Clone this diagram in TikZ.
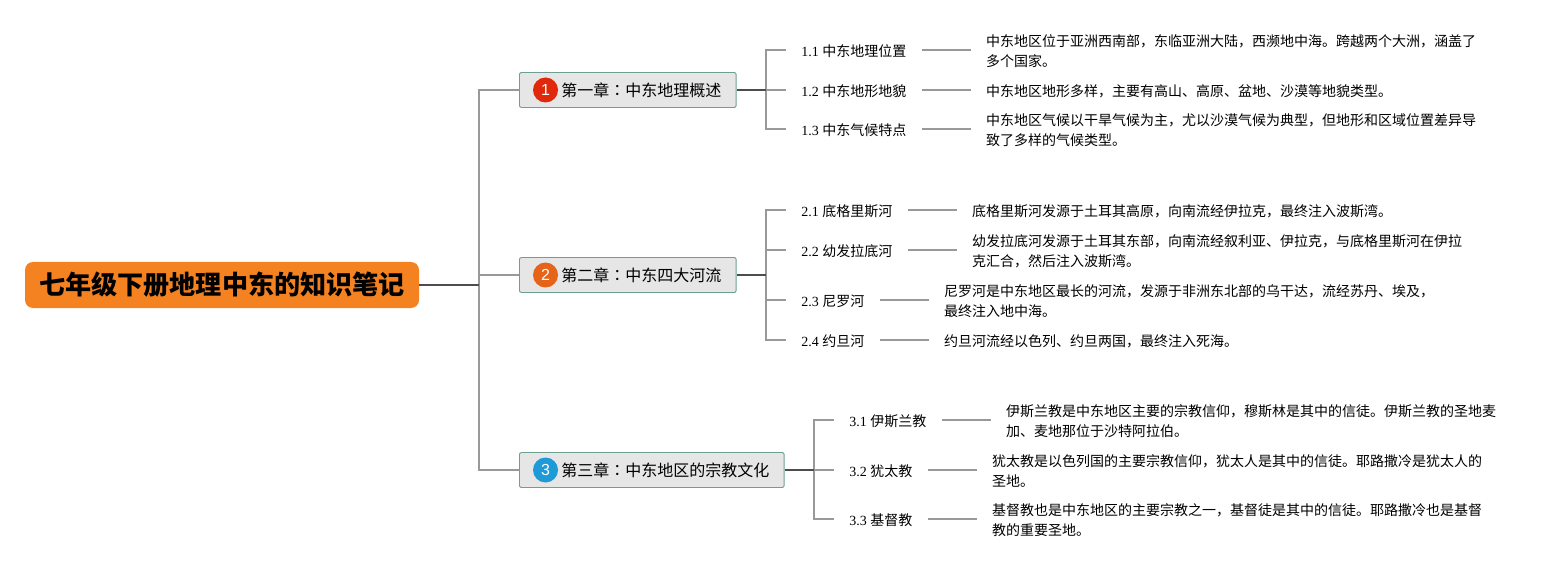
\documentclass[tikz,border=0pt]{standalone}
\usepackage{fontspec}
\setmainfont{Liberation Serif}
\setsansfont{Liberation Sans}
\newfontfamily\cjk{Noto Sans CJK SC}
\newfontfamily\cjktc{Noto Sans CJK TC}
\newcommand\zc{^^^^ff0c}
\newcommand\zk{{\cjktc ^^^^ff1a}}
\definecolor{RootOrange}{RGB}{245,130,32}
\definecolor{BoxGrey}   {RGB}{230,230,230}
\definecolor{BoxEdge}   {RGB}{110,160,145}
\definecolor{LineGrey}  {RGB}{153,153,153}
\definecolor{LineDark}  {RGB}{77,77,77}
\definecolor{IconRed}   {RGB}{224,40,10}
\definecolor{IconOrange}{RGB}{230,100,25}
\definecolor{IconBlue}  {RGB}{30,154,214}
\usetikzlibrary{positioning}

\begin{document}
\begin{tikzpicture}[x=0.75pt,y=-0.75pt,
  rootbox/.style={fill=RootOrange,rounded corners=6pt,font=\cjk\bfseries\fontsize{19.6}{23}\selectfont,
              minimum width=295.5pt,minimum height=34.5pt,inner sep=0pt,align=center},
  chapbox/.style={draw=BoxEdge,fill=BoxGrey,rounded corners=1.5pt,line width=0.7pt,anchor=west,
              font=\cjk\fontsize{12}{14}\selectfont,minimum height=26.25pt,inner ysep=0pt,inner xsep=11pt,
              execute at begin node={\hspace*{20.5pt}}},
  icon/.style={circle,minimum size=18.75pt,inner sep=0pt,text=white,font=\sffamily\fontsize{12}{14}\selectfont},
  subbox/.style={anchor=west,inner ysep=0pt,inner xsep=11.25pt,font=\fontsize{10.5}{15}\selectfont,
              execute at begin node={\rule{0pt}{11pt}}},
  descbox/.style={yshift=-0.75pt,inner ysep=0pt,inner xsep=11.25pt,align=left,
              font=\cjk\fontsize{10.5}{15}\selectfont},
  grey/.style={draw=LineGrey,line width=0.9pt},
  dark/.style={draw=LineDark,line width=1.2pt}]
  \useasboundingbox (0,0) rectangle (1566,570);

  % main topic and chapters
  \node[rootbox] (root) at (222,285) {七年级下册地理中东的知识笔记};
  \node[chapbox] (ch1) at (519,90) {第一章\zk{}中东地理概述};
  \node[chapbox] (ch2) at (519,275) {第二章\zk{}中东四大河流};
  \node[chapbox] (ch3) at (519,470) {第三章\zk{}中东地区的宗教文化};
  \node[icon,fill=IconRed] (ic1) at (545.5,90) {1};
  \node[icon,fill=IconOrange] (ic2) at (545.5,275) {2};
  \node[icon,fill=IconBlue] (ic3) at (545.5,470) {3};

  \coordinate (j0) at (479,285);
  \coordinate (j1) at (766,90);
  \coordinate (j2) at (766,275);
  \coordinate (j3) at (814,470);

  % chapter 1
  \node[subbox] (s11) at (786,50) {1.1 {\cjk 中东地理位置}};
  \node[subbox] (s12) at (786,90) {1.2 {\cjk 中东地形地貌}};
  \node[subbox] (s13) at (786,129) {1.3 {\cjk 中东气候特点}};
  \node[descbox,right=37pt of s11] (d11)
        {中东地区位于亚洲西南部\zc{}东临亚洲大陆\zc{}西濒地中海。跨越两个大洲\zc{}涵盖了\\多个国家。};
  \node[descbox,right=37pt of s12] (d12)
        {中东地区地形多样\zc{}主要有高山、高原、盆地、沙漠等地貌类型。};
  \node[descbox,right=37pt of s13] (d13)
        {中东地区气候以干旱气候为主\zc{}尤以沙漠气候为典型\zc{}但地形和区域位置差异导\\致了多样的气候类型。};

  % chapter 2
  \node[subbox] (s21) at (786,210) {2.1 {\cjk 底格里斯河}};
  \node[subbox] (s22) at (786,250) {2.2 {\cjk 幼发拉底河}};
  \node[subbox] (s23) at (786,300) {2.3 {\cjk 尼罗河}};
  \node[subbox] (s24) at (786,340) {2.4 {\cjk 约旦河}};
  \node[descbox,right=37pt of s21] (d21)
        {底格里斯河发源于土耳其高原\zc{}向南流经伊拉克\zc{}最终注入波斯湾。};
  \node[descbox,right=37pt of s22] (d22)
        {幼发拉底河发源于土耳其东部\zc{}向南流经叙利亚、伊拉克\zc{}与底格里斯河在伊拉\\克汇合\zc{}然后注入波斯湾。};
  \node[descbox,right=37pt of s23] (d23)
        {尼罗河是中东地区最长的河流\zc{}发源于非洲东北部的乌干达\zc{}流经苏丹、埃及\zc\\最终注入地中海。};
  \node[descbox,right=37pt of s24] (d24)
        {约旦河流经以色列、约旦两国\zc{}最终注入死海。};

  % chapter 3
  \node[subbox] (s31) at (834,420) {3.1 {\cjk 伊斯兰教}};
  \node[subbox] (s32) at (834,470) {3.2 {\cjk 犹太教}};
  \node[subbox] (s33) at (834,519) {3.3 {\cjk 基督教}};
  \node[descbox,right=37pt of s31] (d31)
        {伊斯兰教是中东地区主要的宗教信仰\zc{}穆斯林是其中的信徒。伊斯兰教的圣地麦\\加、麦地那位于沙特阿拉伯。};
  \node[descbox,right=37pt of s32] (d32)
        {犹太教是以色列国的主要宗教信仰\zc{}犹太人是其中的信徒。耶路撒冷是犹太人的\\圣地。};
  \node[descbox,right=37pt of s33] (d33)
        {基督教也是中东地区的主要宗教之一\zc{}基督徒是其中的信徒。耶路撒冷也是基督\\教的重要圣地。};

  % connectors
  \draw[grey] (j0) |- (ch1.west);
  \draw[grey] (j0) |- (ch2.west);
  \draw[grey] (j0) |- (ch3.west);
  \draw[grey] (j1) |- (s11.west);
  \draw[grey] (j1) |- (s12.west);
  \draw[grey] (j1) |- (s13.west);
  \draw[grey] (j2) |- (s21.west);
  \draw[grey] (j2) |- (s22.west);
  \draw[grey] (j2) |- (s23.west);
  \draw[grey] (j2) |- (s24.west);
  \draw[grey] (j3) |- (s31.west);
  \draw[grey] (j3) |- (s32.west);
  \draw[grey] (j3) |- (s33.west);
  \draw[grey] (s11.east)--(s11.east -| d11.west);
  \draw[grey] (s12.east)--(s12.east -| d12.west);
  \draw[grey] (s13.east)--(s13.east -| d13.west);
  \draw[grey] (s21.east)--(s21.east -| d21.west);
  \draw[grey] (s22.east)--(s22.east -| d22.west);
  \draw[grey] (s23.east)--(s23.east -| d23.west);
  \draw[grey] (s24.east)--(s24.east -| d24.west);
  \draw[grey] (s31.east)--(s31.east -| d31.west);
  \draw[grey] (s32.east)--(s32.east -| d32.west);
  \draw[grey] (s33.east)--(s33.east -| d33.west);
  \draw[dark] (root.east)--(j0);
  \draw[dark] (ch1.east)--(j1);
  \draw[dark] (ch2.east)--(j2);
  \draw[dark] (ch3.east)--(j3);
\end{tikzpicture}
\end{document}
